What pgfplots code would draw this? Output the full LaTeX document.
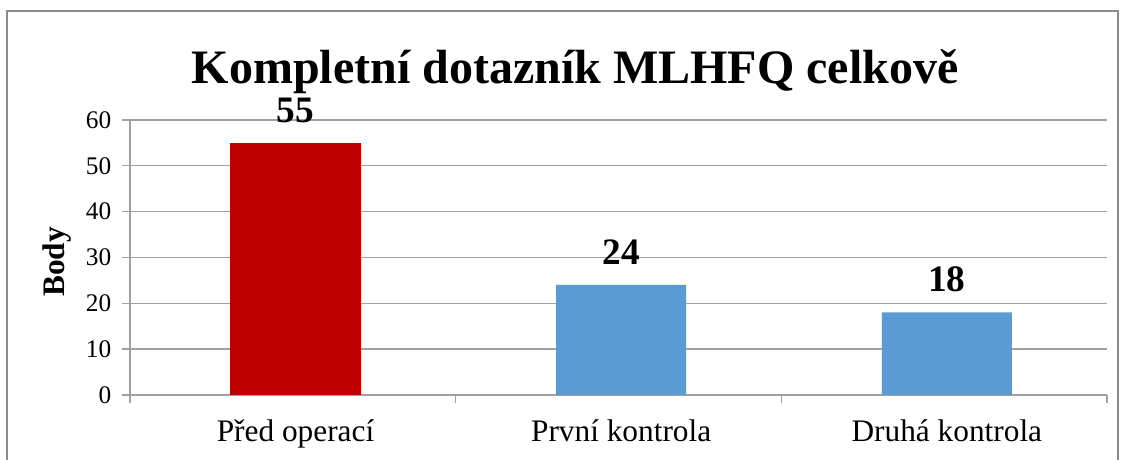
\documentclass[border=0pt]{standalone}
\usepackage{fontspec}
\setmainfont{Liberation Serif}
\usepackage{pgfplots}
\pgfplotsset{compat=1.18}
\definecolor{barred}{HTML}{C00000}
\definecolor{barblue}{HTML}{5B9BD5}
\definecolor{linegray}{HTML}{A0A0A0}
\definecolor{framegray}{HTML}{8C8C8C}
\begin{document}
\begin{tikzpicture}[x=0.75pt,y=0.75pt]
\useasboundingbox (0,0) rectangle (1122,460);
\draw[framegray,line width=1pt] (7,-20) -- (7,449) -- (1118,449) -- (1118,-20);
\coordinate (sw) at (130,65);
\begin{axis}[
  at={(sw)}, anchor=south west,
  scale only axis,
  width=732.75pt, height=206.25pt,
  ybar, bar width=97.5pt, bar shift=2pt,
  xmin=-0.5, xmax=2.5, ymin=0, ymax=60,
  xtick={0,1,2},
  xticklabels={Před operací, První kontrola, Druhá kontrola},
  minor xtick={-0.5,0.5,1.5,2.5},
  ytick={0,10,...,60},
  axis x line*=bottom, axis y line*=left,
  axis line style={linegray, line width=1pt},
  ymajorgrids, grid style={linegray, line width=1pt},
  tick align=outside,
  major tick length=6pt, minor tick length=6pt,
  major x tick style={draw=none},
  minor x tick style={linegray, line width=1pt},
  major y tick style={linegray, line width=1pt},
  /pgf/number format/assume math mode=true,
  yticklabel style={font=\fontsize{19}{19}\selectfont, xshift=-4.5pt},
  xticklabel style={font=\fontsize{23.5}{23.5}\selectfont, yshift=-9pt, xshift=2pt},
  nodes near coords,
  every node near coord/.append style={font=\bfseries\fontsize{28}{28}\selectfont, anchor=base, inner sep=0pt, yshift=15.5pt, black},
  clip=false,
]
\addplot[fill=barred, draw=none] coordinates {(0,55)};
\addplot[fill=barblue, draw=none] coordinates {(1,24) (2,18)};
\end{axis}
\node[anchor=base, font=\bfseries\fontsize{36}{36}\selectfont] at (575,376) {Kompletní dotazník MLHFQ celkově};
\node[rotate=90, font=\bfseries\fontsize{23.5}{23.5}\selectfont] at (57,198) {Body};
\end{tikzpicture}
\end{document}
